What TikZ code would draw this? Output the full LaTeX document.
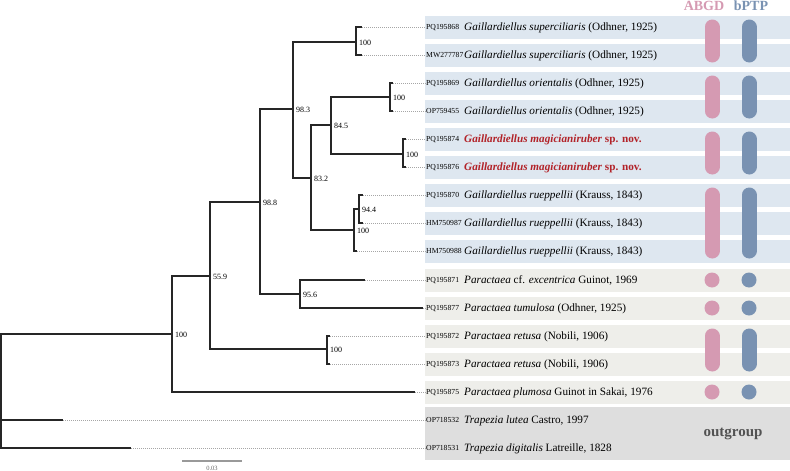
\documentclass[tikz,border=0pt]{standalone}
\usepackage{fontspec}
\setmainfont{Liberation Serif}
\definecolor{bandblue}{RGB}{222,231,240}
\definecolor{bandgray}{RGB}{238,238,234}
\definecolor{outgray}{RGB}{222,222,222}
\definecolor{abgdpink}{RGB}{213,154,178}
\definecolor{ptpblue}{RGB}{121,146,178}
\definecolor{newred}{RGB}{178,34,40}
\tikzset{
  branch/.style={line width=1.1pt, draw=black!85},
  tipline/.style={draw=black!35, line width=0.4pt, dash pattern=on 1.2pt off 0.8pt},
  boot/.style={font=\fontsize{8}{9}\selectfont, anchor=west, inner sep=0pt, xshift=3pt, yshift=-1pt},
  acc/.style={font=\fontsize{7.7}{9}\selectfont, anchor=base west, inner sep=0pt, yshift=-2.5pt},
  taxon/.style={font=\fontsize{11.2}{13}\selectfont, anchor=base west, inner sep=0pt, yshift=-3.7pt},
  pill/.style={line width=15pt, line cap=round},
}

\begin{document}
\begin{tikzpicture}[x=1pt, y=-1pt]
\useasboundingbox (0,0) rectangle (790,471);

\foreach \y in {27,55,83,111,139,167,195,223,251}
  \fill[bandblue] (425,\y-11.5) rectangle (790,\y+11.5);
\foreach \y in {280,308,336,364,392}
  \fill[bandgray] (425,\y-11.5) rectangle (790,\y+11.5);
\fill[outgray] (425,407) rectangle (790,460);

\node[font=\fontsize{14}{16}\selectfont\bfseries, text=abgdpink, anchor=base] (hABGD) at (704,10) {ABGD};
\node[font=\fontsize{14}{16}\selectfont\bfseries, text=ptpblue, anchor=base] (hPTP) at (751,10) {bPTP};

\draw[pill, abgdpink] (712,27) -- (712,55);
\draw[pill, abgdpink] (712,83) -- (712,111);
\draw[pill, abgdpink] (712,139) -- (712,167);
\draw[pill, abgdpink] (712,195) -- (712,251);
\fill[abgdpink] (712,280) circle (7.5pt);
\fill[abgdpink] (712,308) circle (7.5pt);
\draw[pill, abgdpink] (712,336) -- (712,364);
\fill[abgdpink] (712,392) circle (7.5pt);
\draw[pill, ptpblue] (749,27) -- (749,55);
\draw[pill, ptpblue] (749,83) -- (749,111);
\draw[pill, ptpblue] (749,139) -- (749,167);
\draw[pill, ptpblue] (749,195) -- (749,251);
\fill[ptpblue] (749,280) circle (7.5pt);
\fill[ptpblue] (749,308) circle (7.5pt);
\draw[pill, ptpblue] (749,336) -- (749,364);
\fill[ptpblue] (749,392) circle (7.5pt);

\node[font=\fontsize{15}{17}\selectfont\bfseries, text=black!68] (outg) at (733,434) {outgroup};

\node[acc] (acc1) at (426,27) {PQ195868};
\node[acc] (acc2) at (426,55) {MW277787};
\node[acc] (acc3) at (426,83) {PQ195869};
\node[acc] (acc4) at (426,111) {OP759455};
\node[acc] (acc5) at (426,139) {PQ195874};
\node[acc] (acc6) at (426,167) {PQ195876};
\node[acc] (acc7) at (426,195) {PQ195870};
\node[acc] (acc8) at (426,223) {HM750987};
\node[acc] (acc9) at (426,251) {HM750988};
\node[acc] (acc10) at (426,280) {PQ195871};
\node[acc] (acc11) at (426,308) {PQ195877};
\node[acc] (acc12) at (426,336) {PQ195872};
\node[acc] (acc13) at (426,364) {PQ195873};
\node[acc] (acc14) at (426,392) {PQ195875};
\node[acc] (acc15) at (426,420) {OP718532};
\node[acc] (acc16) at (426,448) {OP718531};

\node[taxon] (sp1) at (464,27) {\textit{Gaillardiellus superciliaris} (Odhner, 1925)};
\node[taxon] (sp2) at (464,55) {\textit{Gaillardiellus superciliaris} (Odhner, 1925)};
\node[taxon] (sp3) at (464,83) {\textit{Gaillardiellus orientalis} (Odhner, 1925)};
\node[taxon] (sp4) at (464,111) {\textit{Gaillardiellus orientalis} (Odhner, 1925)};
\node[taxon, text=newred] (sp5) at (464,139) {\textbf{\textit{Gaillardiellus magicianiruber} sp. nov.}};
\node[taxon, text=newred] (sp6) at (464,167) {\textbf{\textit{Gaillardiellus magicianiruber} sp. nov.}};
\node[taxon] (sp7) at (464,195) {\textit{Gaillardiellus rueppellii} (Krauss, 1843)};
\node[taxon] (sp8) at (464,223) {\textit{Gaillardiellus rueppellii} (Krauss, 1843)};
\node[taxon] (sp9) at (464,251) {\textit{Gaillardiellus rueppellii} (Krauss, 1843)};
\node[taxon] (sp10) at (464,280) {\textit{Paractaea} cf. \textit{excentrica} Guinot, 1969};
\node[taxon] (sp11) at (464,308) {\textit{Paractaea tumulosa} (Odhner, 1925)};
\node[taxon] (sp12) at (464,336) {\textit{Paractaea retusa} (Nobili, 1906)};
\node[taxon] (sp13) at (464,364) {\textit{Paractaea retusa} (Nobili, 1906)};
\node[taxon] (sp14) at (464,392) {\textit{Paractaea plumosa} Guinot in Sakai, 1976};
\node[taxon] (sp15) at (464,420) {\textit{Trapezia lutea} Castro, 1997};
\node[taxon] (sp16) at (464,448) {\textit{Trapezia digitalis} Latreille, 1828};

\coordinate (root) at (1,391);
\coordinate (nIn) at (172,334);
\coordinate (n559) at (210,276);
\coordinate (n988) at (260,202);
\coordinate (n983) at (293,109);
\coordinate (nSup) at (356,42);
\coordinate (n832) at (311,178);
\coordinate (n845) at (331,125);
\coordinate (nOri) at (390,97);
\coordinate (nMag) at (403,154);
\coordinate (nRue) at (354,230);
\coordinate (n944) at (359,209);
\coordinate (n956) at (300,294);
\coordinate (nRet) at (327,349);

\coordinate (t1) at (362,27);
\coordinate (t2) at (362,55);
\coordinate (t3) at (393,83);
\coordinate (t4) at (393,111);
\coordinate (t5) at (406,139);
\coordinate (t6) at (406,167);
\coordinate (t7) at (363,195);
\coordinate (t8) at (363,223);
\coordinate (t9) at (357,251);
\coordinate (t10) at (365,280);
\coordinate (t11) at (423,308);
\coordinate (t12) at (330,336);
\coordinate (t13) at (330,364);
\coordinate (t14) at (415,392);
\coordinate (t15) at (63,420);
\coordinate (t16) at (131,448);

\foreach \i in {1,...,16}
  \draw[tipline] (t\i) -- (t\i -| acc\i.west);

\draw[branch] (root) |- (nIn);
\draw[branch] (root) |- (t15);
\draw[branch] (root) |- (t16);
\draw[branch] (nIn) |- (n559);
\draw[branch] (nIn) |- (t14);
\draw[branch] (n559) |- (n988);
\draw[branch] (n559) |- (nRet);
\draw[branch] (n988) |- (n983);
\draw[branch] (n988) |- (n956);
\draw[branch] (n983) |- (nSup);
\draw[branch] (n983) |- (n832);
\draw[branch] (nSup) |- (t1);
\draw[branch] (nSup) |- (t2);
\draw[branch] (n832) |- (n845);
\draw[branch] (n832) |- (nRue);
\draw[branch] (n845) |- (nOri);
\draw[branch] (n845) |- (nMag);
\draw[branch] (nOri) |- (t3);
\draw[branch] (nOri) |- (t4);
\draw[branch] (nMag) |- (t5);
\draw[branch] (nMag) |- (t6);
\draw[branch] (nRue) |- (n944);
\draw[branch] (nRue) |- (t9);
\draw[branch] (n944) |- (t7);
\draw[branch] (n944) |- (t8);
\draw[branch] (n956) |- (t10);
\draw[branch] (n956) |- (t11);
\draw[branch] (nRet) |- (t12);
\draw[branch] (nRet) |- (t13);

\node[boot] (bIn) at (nIn) {100};
\node[boot] (b559) at (n559) {55.9};
\node[boot] (b988) at (n988) {98.8};
\node[boot] (b983) at (n983) {98.3};
\node[boot] (bSup) at (nSup) {100};
\node[boot] (b832) at (n832) {83.2};
\node[boot] (b845) at (n845) {84.5};
\node[boot] (bOri) at (nOri) {100};
\node[boot] (bMag) at (nMag) {100};
\node[boot] (bRue) at (nRue) {100};
\node[boot] (b944) at (n944) {94.4};
\node[boot] (b956) at (n956) {95.6};
\node[boot] (bRet) at (nRet) {100};

\coordinate (sb1) at (182,461);
\coordinate (sb2) at (242,461);
\draw[line width=1.8pt, black!40] (sb1) -- (sb2);
\node[font=\fontsize{6.5}{7}\selectfont, text=black!60] (sbl) at (212,468) {0.03};
\end{tikzpicture}
\end{document}
